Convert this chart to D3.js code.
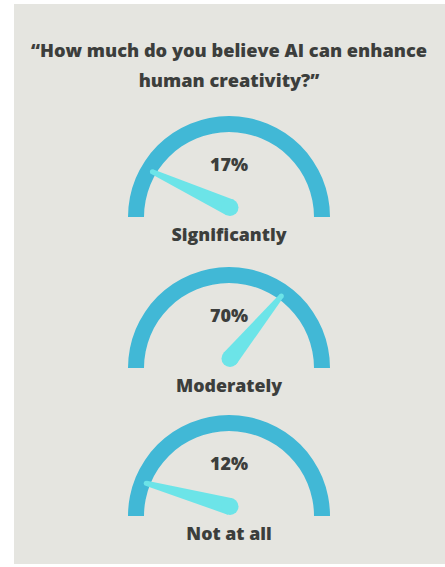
<!DOCTYPE html>
<html>
<head>
<meta charset="utf-8">
<script src="https://cdn.jsdelivr.net/npm/d3@7"></script>
<style>
  html, body { margin: 0; padding: 0; background: #ffffff; }
  svg { display: block; }
  text { font-family: "Open Sans", Roboto, sans-serif; font-weight: 800; fill: #3c3e3c; }
</style>
</head>
<body>
<script>
// Survey answers and their shares (%)
const titleLines = ["“How much do you believe AI can enhance", "human creativity?”"];
const categories = ["Significantly", "Moderately", "Not at all"];
const shares = [17, 70, 12];
const percentLabels = ["17%", "70%", "12%"];

const width = 445, height = 567;
const colors = { panel: "#e5e5e0", arc: "#41b8d6", needle: "#6ce4e8" };

const svg = d3.select("body").append("svg")
  .attr("width", width).attr("height", height);

svg.append("rect")
  .attr("x", 14).attr("y", 4)
  .attr("width", width - 14).attr("height", height - 7)
  .attr("fill", colors.panel);

// Title
svg.append("g").selectAll("text").data(titleLines).join("text")
  .attr("x", 229)
  .attr("y", (d, i) => 57 + i * 30)
  .attr("text-anchor", "middle")
  .attr("font-size", 18.2)
  .text(d => d);

// Gauge layout
const rows = d3.scaleOrdinal().domain(categories).range([217, 368, 516]);
const cx = 229;
const outerR = 101, innerR = 85;
const needleLen = 89;

// Percent -> angle in radians, measured from the left end of the dial
const angle = d3.scaleLinear().domain([0, 100]).range([0, Math.PI]);
const arcGen = d3.arc()
  .innerRadius(innerR).outerRadius(outerR)
  .startAngle(-Math.PI / 2).endAngle(Math.PI / 2);

const data = categories.map((c, i) => ({ cat: c, value: shares[i], label: percentLabels[i] }));

const gauges = svg.selectAll("g.gauge").data(data).join("g")
  .attr("class", "gauge")
  .attr("transform", d => `translate(${cx},${rows(d.cat)})`);

gauges.append("path")
  .attr("d", arcGen())
  .attr("fill", colors.arc);

// Tapered needle: a quad between a wide hub and a narrow tip, both rounded
const hub = { x: 1, y: -9.5, r: 8.5 };
const tipR = 2.5;
function tipPoint(d) {
  const a = angle(d.value);
  return { x: -Math.cos(a) * needleLen, y: -Math.sin(a) * needleLen };
}
function bodyPath(d) {
  const t = tipPoint(d);
  const dx = t.x - hub.x, dy = t.y - hub.y;
  const len = Math.hypot(dx, dy);
  const nx = -dy / len, ny = dx / len;
  return `M${hub.x + nx * hub.r},${hub.y + ny * hub.r}` +
    `L${t.x + nx * tipR},${t.y + ny * tipR}` +
    `L${t.x - nx * tipR},${t.y - ny * tipR}` +
    `L${hub.x - nx * hub.r},${hub.y - ny * hub.r}Z`;
}

const needles = gauges.append("g").attr("fill", colors.needle);
needles.append("path").attr("d", bodyPath);
needles.append("circle").attr("cx", hub.x).attr("cy", hub.y).attr("r", hub.r);
needles.append("circle")
  .attr("cx", d => tipPoint(d).x).attr("cy", d => tipPoint(d).y).attr("r", tipR);

gauges.append("text")
  .attr("x", 0).attr("y", -46)
  .attr("text-anchor", "middle")
  .attr("font-size", 18)
  .text(d => d.label);

gauges.append("text")
  .attr("x", 0).attr("y", 23.5)
  .attr("text-anchor", "middle")
  .attr("font-size", 17.8)
  .text(d => d.cat);
</script>
</body>
</html>
